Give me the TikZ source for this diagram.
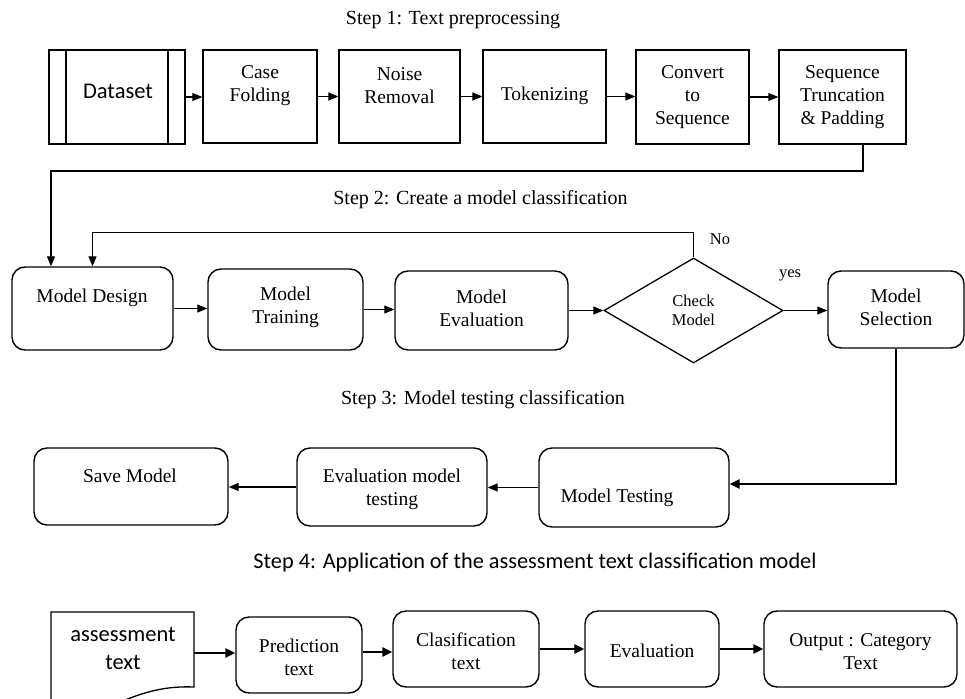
\documentclass[tikz,border=0pt]{standalone}
\usepackage{fontspec}
\setmainfont{Liberation Serif}
\newfontfamily\calib{Carlito}
\usetikzlibrary{arrows.meta,shapes.geometric,calc}
\begin{document}
\begin{tikzpicture}[x=1pt,y=-1pt,
  sqbox/.style={draw, line width=1.3pt, inner sep=0pt},
  rbox/.style={draw, line width=1.4pt, rounded corners=13pt, inner sep=0pt},
  txt/.style={align=center, inner sep=0pt, yshift=-2.5pt, font=\fontsize{19.5}{23}\selectfont},
  smalltxt/.style={align=center, inner sep=0pt, yshift=-1pt, font=\fontsize{16.5}{19}\selectfont},
  sans/.style={align=center, inner sep=0pt, yshift=-1pt, font=\calib\fontsize{22.5}{28}\selectfont},
  steplbl/.style={inner sep=0pt, yshift=-2pt, font=\fontsize{20}{24}\selectfont},
  arr/.style={line width=1.2pt, -{Triangle[length=10pt,width=8pt]}},
  tarr/.style={line width=2.4pt, -{Triangle[length=10pt,width=9pt]}},
]
\useasboundingbox (0,0) rectangle (965,698);

% ---------- Step 1 ----------
\node[steplbl] (s1) at (453,18) {Step 1: Text preprocessing};

\node[sqbox, minimum width=136pt, minimum height=94pt] (data) at (117,97) {};
\draw[line width=1.3pt] (66,50) -- (66,144) (168,50) -- (168,144);
\node[sans] (tdata) at (118,90) {Dataset};

\node[sqbox, minimum width=114pt, minimum height=93pt] (case) at (260,96.5) {};
\node[txt] (tcase) at (260,83) {Case\\Folding};

\node[sqbox, minimum width=121pt, minimum height=93pt] (noise) at (399.5,96.5) {};
\node[txt] (tnoise) at (399.5,83) {Noise\\Removal};

\node[sqbox, minimum width=123pt, minimum height=93pt] (token) at (544.5,96.5) {};
\node[txt] (ttoken) at (544.5,93) {Tokenizing};

\node[sqbox, minimum width=113pt, minimum height=94pt] (conv) at (692.5,97) {};
\node[txt] (tconv) at (692.5,95) {Convert\\to\\Sequence};

\node[sqbox, minimum width=127pt, minimum height=94pt] (seq) at (842.5,97) {};
\node[txt] (tseq) at (842.5,95) {Sequence\\Truncation\\\& Padding};

\draw[arr] (data.east) -- (data.east -| case.west);
\draw[arr] (case.east) -- (case.east -| noise.west);
\draw[arr] (noise.east) -- (noise.east -| token.west);
\draw[arr] (token.east) -- (token.east -| conv.west);
\draw[arr] (conv.east) -- (conv.east -| seq.west);

% ---------- Step 2 ----------
\node[steplbl] (s2) at (480.5,198) {Step 2: Create a model classification};

\node[rbox, minimum width=161pt, minimum height=83pt] (design) at (92.5,308.5) {};
\node[txt] (tdesign) at (92,295) {Model Design};

\node[rbox, minimum width=155pt, minimum height=81pt] (train) at (285.5,309.5) {};
\node[txt] (ttrain) at (285.5,305) {Model\\Training};

\node[rbox, minimum width=173pt, minimum height=79pt] (eval) at (481.5,310.5) {};
\node[txt] (teval) at (481.5,306) {Model\\Evaluation};

\node[draw, diamond, line width=1.3pt, minimum width=179pt, minimum height=105pt, inner sep=0pt] (chk) at (693.5,310.5) {};
\node[smalltxt] (tchk) at (693.5,309.5) {Check\\Model};

\node[rbox, minimum width=136pt, minimum height=77pt] (select) at (896,309.5) {};
\node[txt] (tselect) at (896,305) {Model\\Selection};

\node[smalltxt] (no) at (720,238) {No};
\node[smalltxt] (yes) at (790,274) {yes};

\coordinate (c1) at (863,171);
\coordinate (c0) at (51,171);
\draw[arr] (c1 |- seq.south) -- (c1) -- (c0) -- (c0 |- design.north);

\draw[arr] (chk.north) -- ++(0,-25) -| (design.north);

\draw[arr] (design.east) -- (design.east -| train.west);
\draw[arr] (train.east) -- (train.east -| eval.west);
\draw[arr] (eval.east) -- (chk.west);
\draw[arr] (chk.east) -- (chk.east -| select.west);

% ---------- Step 3 ----------
\node[steplbl] (s3) at (483,398) {Step 3: Model testing classification};

\node[rbox, minimum width=194pt, minimum height=77pt] (save) at (131,486.5) {};
\node[txt] (tsave) at (130,473) {Save Model};

\node[rbox, minimum width=190pt, minimum height=78pt] (evtest) at (392,487) {};
\node[txt] (tevtest) at (392,486.5) {Evaluation model\\testing};

\node[rbox, minimum width=190pt, minimum height=79pt] (mtest) at (634,487.5) {};
\node[txt] (tmtest) at (617,495) {Model Testing};

\coordinate (c2) at (896,484);
\draw[tarr] (select.south) -- (c2) -- (c2 -| mtest.east);
\draw[arr] (mtest.west) -- (mtest.west -| evtest.east);
\draw[arr] (evtest.west) -- (evtest.west -| save.east);

% ---------- Step 4 ----------
\node[inner sep=0pt, yshift=-1pt, font=\calib\fontsize{22.3}{26}\selectfont] (s4) at (535,562) {Step 4: Application of the assessment text classification model};

\node[inner sep=0pt, minimum width=143pt, minimum height=80pt] (doc) at (122.5,653) {};
\draw[line width=1.3pt] (51,720) -- (51,612) -- (194,612) -- (194,687)
   .. controls (170,686) and (150,690) .. (125,700)
   .. controls (100,710) and (75,714) .. (51,712);
\node[sans] (tdoc) at (123,647) {assessment\\text};

\node[rbox, minimum width=126pt, minimum height=76pt] (pred) at (299,655) {};
\node[txt] (tpred) at (299,655) {Prediction\\text};

\node[rbox, minimum width=146pt, minimum height=76pt] (clas) at (466,649) {};
\node[txt] (tclas) at (466,648.5) {Clasification\\text};

\node[rbox, minimum width=134pt, minimum height=76pt] (evalu) at (652,649) {};
\node[txt] (tevalu) at (652,648) {Evaluation};

\node[rbox, minimum width=193pt, minimum height=76pt] (out) at (860.5,649) {};
\node[txt] (tout) at (860.5,649) {Output : Category\\Text};

\coordinate (p1) at ($(pred.east)+(0,-3)$);
\draw[tarr] (doc.east) -- (doc.east -| pred.west);
\draw[tarr] (p1) -- (p1 -| clas.west);
\draw[tarr] (clas.east) -- (clas.east -| evalu.west);
\draw[tarr] (evalu.east) -- (evalu.east -| out.west);
\end{tikzpicture}
\end{document}
